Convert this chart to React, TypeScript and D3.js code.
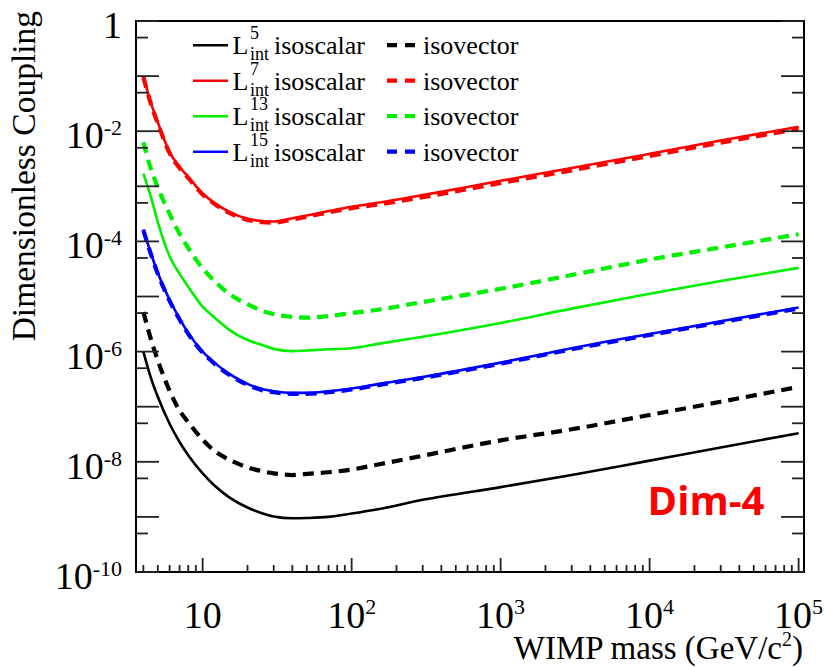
import React from "react";
import * as d3 from "d3";

// WIMP mass grid (GeV/c^2)
const MASS = [4, 4.5, 5, 6, 7, 8, 10, 12, 15, 20, 25, 30, 40, 50, 70, 100, 150, 300, 1000, 3000, 10000, 30000, 100000];

// Dimensionless coupling limits
const L5_ISOSCALAR = [1.0e-6, 3.31e-7, 1.51e-7, 4.9e-8, 2.29e-8, 1.32e-8, 6.17e-9, 3.72e-9, 2.29e-9, 1.48e-9, 1.17e-9, 1.02e-9, 9.44e-10, 9.55e-10, 1.0e-9, 1.15e-9, 1.38e-9, 2.04e-9, 3.47e-9, 5.75e-9, 1.05e-8, 1.82e-8, 3.31e-8];
const L5_ISOVECTOR = [5.25e-6, 1.66e-6, 6.92e-7, 1.95e-7, 8.51e-8, 5.25e-8, 2.51e-8, 1.58e-8, 1.1e-8, 7.94e-9, 6.76e-9, 6.17e-9, 5.75e-9, 6.03e-9, 6.46e-9, 7.24e-9, 8.91e-9, 1.29e-8, 2.45e-8, 3.89e-8, 7.08e-8, 1.23e-7, 2.29e-7];
const L7_ISOSCALAR = [1.0e-1, 3.24e-2, 1.45e-2, 4.17e-3, 2.24e-3, 1.48e-3, 7.41e-4, 5.01e-4, 3.47e-4, 2.57e-4, 2.34e-4, 2.29e-4, 2.63e-4, 2.95e-4, 3.55e-4, 4.27e-4, 5.01e-4, 6.92e-4, 1.26e-3, 2.14e-3, 3.89e-3, 6.76e-3, 1.2e-2];
const L7_ISOVECTOR = [9.6e-2, 3.1e-2, 1.39e-2, 4.0e-3, 2.15e-3, 1.42e-3, 7.1e-4, 4.8e-4, 3.32e-4, 2.46e-4, 2.24e-4, 2.19e-4, 2.5e-4, 2.8e-4, 3.36e-4, 4.02e-4, 4.65e-4, 6.35e-4, 1.15e-3, 1.95e-3, 3.55e-3, 6.2e-3, 1.1e-2];
const L13_ISOSCALAR = [1.7e-3, 6.31e-4, 2.24e-4, 5.37e-5, 2.57e-5, 1.51e-5, 6.53e-6, 4.17e-6, 2.51e-6, 1.62e-6, 1.32e-6, 1.12e-6, 1.02e-6, 1.05e-6, 1.1e-6, 1.15e-6, 1.38e-6, 1.86e-6, 3.31e-6, 6.03e-6, 1.12e-5, 1.91e-5, 3.31e-5];
const L13_ISOVECTOR = [6.31e-3, 2.04e-3, 9.55e-4, 3.16e-4, 1.38e-4, 7.59e-5, 3.24e-5, 1.91e-5, 1.12e-5, 7.24e-6, 5.5e-6, 4.79e-6, 4.27e-6, 4.12e-6, 4.42e-6, 5.01e-6, 5.75e-6, 7.94e-6, 1.38e-5, 2.45e-5, 4.68e-5, 7.76e-5, 1.35e-4];
const L15_ISOSCALAR = [1.66e-4, 6.03e-5, 2.69e-5, 8.71e-6, 3.98e-6, 2.19e-6, 1.0e-6, 6.31e-7, 3.98e-7, 2.6e-7, 2.09e-7, 1.91e-7, 1.78e-7, 1.78e-7, 1.91e-7, 2.14e-7, 2.57e-7, 3.47e-7, 6.31e-7, 1.15e-6, 2.09e-6, 3.55e-6, 6.31e-6];
const L15_ISOVECTOR = [1.6e-4, 5.8e-5, 2.58e-5, 8.35e-6, 3.82e-6, 2.1e-6, 9.6e-7, 6.05e-7, 3.82e-7, 2.49e-7, 2.0e-7, 1.83e-7, 1.71e-7, 1.71e-7, 1.83e-7, 2.05e-7, 2.47e-7, 3.33e-7, 6.05e-7, 1.1e-6, 2.0e-6, 3.4e-6, 6.05e-6];

const LEGEND_POWERS = ["5", "7", "13", "15"];
const COLORS = ["#000000", "#ff0000", "#00f000", "#0000ff"];
const Y_LABEL_EXPONENTS = [0, -2, -4, -6, -8, -10];
const X_LABEL_EXPONENTS = [1, 2, 3, 4, 5];

const W = 824, H = 667;
const L = 136, R = 804, T = 21, B = 572;
const SERIF = "'Liberation Serif', 'Times New Roman', serif";

export default function App() {
  const x = d3.scaleLog().domain([3.57, 1.087e5]).range([L, R]);
  const y = d3.scaleLog().domain([1e-10, 1]).range([B, T]);
  const line = d3
    .line<[number, number]>()
    .x((d) => x(d[0]))
    .y((d) => y(d[1]))
    .curve(d3.curveMonotoneX);
  const mk = (vals: number[]) => line(MASS.map((m, i) => [m, vals[i]]) as [number, number][]) || "";

  const series = [
    { s: L5_ISOSCALAR, v: L5_ISOVECTOR },
    { s: L7_ISOSCALAR, v: L7_ISOVECTOR },
    { s: L13_ISOSCALAR, v: L13_ISOVECTOR },
    { s: L15_ISOSCALAR, v: L15_ISOVECTOR },
  ];

  const xMajor: number[] = [];
  const xMinor: number[] = [];
  for (let k = 0; k <= 5; k++) {
    for (let j = 1; j <= 9; j++) {
      const v = j * Math.pow(10, k);
      if (v < 3.57 || v > 1.087e5) continue;
      if (j === 1) xMajor.push(v);
      else xMinor.push(v);
    }
  }
  const yMajor: number[] = [];
  const yMinor: number[] = [];
  for (let k = -10; k <= 0; k++) {
    yMajor.push(Math.pow(10, k));
    if (k < 0) yMinor.push(5 * Math.pow(10, k));
  }

  const tickColor = "#222";
  const dash = "11,7";

  return (
    <svg width={W} height={H} style={{ position: "absolute", left: 0, top: 0, background: "#fff" }}>
      <rect x={0} y={0} width={W} height={H} fill="#fff" />
      <defs>
        <clipPath id="clip">
          <rect x={L} y={T} width={R - L} height={B - T} />
        </clipPath>
      </defs>
      <g fill="none" clipPath="url(#clip)">
        {series.map((d, i) => (
          <g key={i}>
            <path d={mk(d.s)} stroke={COLORS[i]} strokeWidth={2.6} />
            <path d={mk(d.v)} stroke={COLORS[i]} strokeWidth={4.2} strokeDasharray={dash} />
          </g>
        ))}
      </g>

      <rect x={L} y={T} width={R - L} height={B - T} fill="none" stroke="#000" strokeWidth={2} />

      <g stroke={tickColor} strokeWidth={1.8}>
        {xMajor.map((v) => (
          <line key={"xM" + v} x1={x(v)} x2={x(v)} y1={B} y2={B - 14} />
        ))}
        {xMinor.map((v) => (
          <line key={"xm" + v} x1={x(v)} x2={x(v)} y1={B} y2={B - 7} />
        ))}
        {yMajor.map((v) => (
          <g key={"yM" + v}>
            <line x1={L} x2={L + 23} y1={y(v)} y2={y(v)} />
            <line x1={R} x2={R - 23} y1={y(v)} y2={y(v)} />
          </g>
        ))}
        {yMinor.map((v) => (
          <g key={"ym" + v}>
            <line x1={L} x2={L + 12} y1={y(v)} y2={y(v)} />
            <line x1={R} x2={R - 12} y1={y(v)} y2={y(v)} />
          </g>
        ))}
      </g>

      <g fontFamily={SERIF} fill="#000">
        {Y_LABEL_EXPONENTS.map((e) => {
          const yy = y(Math.pow(10, e)) + 17;
          if (e === 0)
            return (
              <text key={e} x={122} y={yy} fontSize={38} textAnchor="end">
                1
              </text>
            );
          return (
            <text key={e} x={122} y={yy} fontSize={38} textAnchor="end">
              10
              <tspan fontSize={22} dy={-13}>
                {String(e)}
              </tspan>
            </text>
          );
        })}
        {X_LABEL_EXPONENTS.map((e) => {
          const xx = x(Math.pow(10, e));
          if (e === 1)
            return (
              <text key={"x" + e} x={xx} y={628} fontSize={38} textAnchor="middle">
                10
              </text>
            );
          return (
            <text key={"x" + e} x={xx} y={628} fontSize={38} textAnchor="middle">
              10
              <tspan fontSize={22} dy={-14}>
                {String(e)}
              </tspan>
            </text>
          );
        })}
      </g>

      <text x={803} y={659} fontFamily={SERIF} fontSize={33} textAnchor="end" fill="#000">
        WIMP mass (GeV/c
        <tspan fontSize={20} dy={-13}>2</tspan>
        <tspan dy={13}>)</tspan>
      </text>
      <text
        transform="translate(35,11) rotate(-90)"
        fontFamily={SERIF}
        fontSize={33.5}
        textAnchor="end"
        fill="#000"
      >
        Dimensionless Coupling
      </text>

      <g fontFamily={SERIF} fill="#000">
        {LEGEND_POWERS.map((p, i) => {
          const ly = 45.2 + 35.5 * i;
          const by = ly + 9;
          return (
            <g key={p}>
              <line x1={193} x2={228} y1={ly} y2={ly} stroke={COLORS[i]} strokeWidth={2.6} />
              <text x={232.5} y={by} fontSize={26}>
                L
                <tspan x={250} y={by - 15} fontSize={18}>{p}</tspan>
                <tspan x={250} y={by + 6} fontSize={18}>int</tspan>
              </text>
              <text x={274} y={by} fontSize={26}>isoscalar</text>
              <line x1={387} x2={415} y1={ly} y2={ly} stroke={COLORS[i]} strokeWidth={4.2} strokeDasharray="10,8" />
              <text x={423} y={by} fontSize={26}>isovector</text>
            </g>
          );
        })}
      </g>

      <text
        x={706}
        y={515}
        fontFamily="'Open Sans', 'Noto Sans', sans-serif"
        fontWeight="bold"
        fontSize={40}
        textAnchor="middle"
        fill="#ff0000"
      >
        Dim-4
      </text>
    </svg>
  );
}
